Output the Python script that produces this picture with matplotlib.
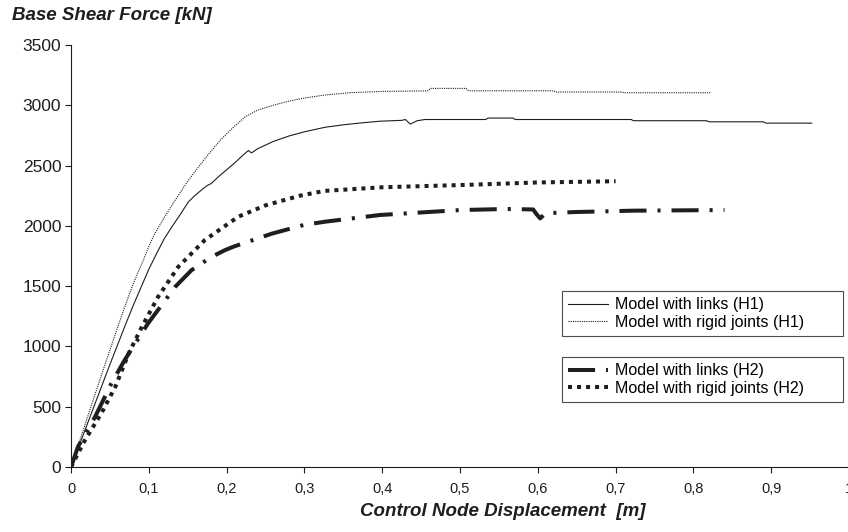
import matplotlib
matplotlib.use("Agg")
import matplotlib.pyplot as plt

plt.rcParams['font.family'] = ['Liberation Sans', 'DejaVu Sans']
plt.rcParams['lines.scale_dashes'] = False

# Model with links (H1)
links_h1_x = [0, 0.01, 0.02, 0.03, 0.04, 0.05, 0.06, 0.07, 0.08, 0.09, 0.10, 0.11, 0.12,
              0.13, 0.14, 0.151, 0.16, 0.17, 0.176, 0.18, 0.19, 0.2, 0.21, 0.22, 0.228,
              0.232, 0.24, 0.26, 0.28, 0.30, 0.326, 0.35, 0.37, 0.397, 0.425, 0.43, 0.436,
              0.445, 0.455, 0.533, 0.536, 0.568, 0.571, 0.72, 0.723, 0.817, 0.82, 0.89,
              0.893, 0.952]
links_h1_y = [0, 170, 340, 510, 680, 850, 1015, 1180, 1340, 1490, 1640, 1770, 1895,
              1995, 2090, 2200, 2255, 2310, 2338, 2350, 2410, 2465, 2520, 2580, 2625,
              2605, 2640, 2700, 2745, 2780, 2817, 2838, 2852, 2868, 2875, 2882, 2844,
              2872, 2882, 2882, 2894, 2894, 2882, 2882, 2872, 2872, 2863, 2863,
              2852, 2852]

# Model with rigid joints (H1)
rigid_h1_x = [0, 0.01, 0.02, 0.03, 0.04, 0.05, 0.06, 0.07, 0.08, 0.093, 0.1, 0.108, 0.12,
              0.134, 0.15, 0.164, 0.18, 0.194, 0.21, 0.224, 0.24, 0.26, 0.28, 0.30,
              0.326, 0.36, 0.40, 0.459, 0.462, 0.508, 0.511, 0.62, 0.623, 0.708,
              0.711, 0.823]
rigid_h1_y = [0, 195, 390, 585, 780, 970, 1160, 1345, 1520, 1716, 1830, 1940, 2070,
              2214, 2370, 2490, 2620, 2725, 2825, 2905, 2960, 3000, 3035, 3060,
              3085, 3105, 3115, 3120, 3140, 3140, 3120, 3120, 3110, 3110,
              3104, 3104]

# Model with links (H2)
links_h2_x = [0, 0.009, 0.031, 0.052, 0.069, 0.099, 0.134, 0.155, 0.18, 0.198, 0.21,
              0.258, 0.299, 0.326, 0.397, 0.5, 0.56, 0.594, 0.598, 0.603, 0.61, 0.65,
              0.723, 0.84]
links_h2_y = [0, 168, 417, 694, 887, 1191, 1495, 1633, 1740, 1799, 1830,
              1935, 2007, 2034, 2090, 2131, 2140, 2136, 2100, 2062, 2105, 2115,
              2126, 2131]

# Model with rigid joints (H2)
rigid_h2_x = [0, 0.018, 0.039, 0.057, 0.074, 0.091, 0.112, 0.138, 0.172, 0.215, 0.25,
              0.294, 0.326, 0.4, 0.509, 0.6, 0.7]
rigid_h2_y = [0, 224, 445, 666, 940, 1161, 1412, 1661, 1882, 2076, 2170,
              2250, 2290, 2320, 2340, 2360, 2370]

x_ticks = [0, 0.1, 0.2, 0.3, 0.4, 0.5, 0.6, 0.7, 0.8, 0.9, 1.0]
x_tick_labels = ['0', '0,1', '0,2', '0,3', '0,4', '0,5', '0,6', '0,7', '0,8', '0,9', '1']
y_ticks = [0, 500, 1000, 1500, 2000, 2500, 3000, 3500]

ink = '#1e1e1e'

fig = plt.figure(figsize=(8.48, 5.32), dpi=100)
ax = fig.add_axes([71 / 848, 65 / 532, 778 / 848, 422 / 532])

l1, = ax.plot(links_h1_x, links_h1_y, color=ink, lw=0.8, label='Model with links (H1)')
l2, = ax.plot(rigid_h1_x, rigid_h1_y, color=ink, lw=0.8, linestyle=(0, (0.8, 0.8)),
              label='Model with rigid joints (H1)')
l3, = ax.plot(links_h2_x, links_h2_y, color=ink, lw=2.9, linestyle=(0, (19.5, 7.9, 2.2, 7.9)),
              dash_capstyle='butt', label='Model with links (H2)')
l4, = ax.plot(rigid_h2_x, rigid_h2_y, color=ink, lw=2.9, linestyle=(0, (2.9, 3.6)),
              dash_capstyle='butt', label='Model with rigid joints (H2)')

ax.set_xlim(0, 1.0)
ax.set_ylim(0, 3500)
ax.set_xticks(x_ticks)
ax.set_xticklabels(x_tick_labels, fontsize=10.5)
ax.set_yticks(y_ticks)
ax.set_yticklabels([str(v) for v in y_ticks], fontsize=12.5)
ax.tick_params(direction='out', length=4, width=0.8, colors=ink)
ax.tick_params(axis='x', pad=7)
ax.tick_params(axis='y', pad=3)
for side in ['top', 'right']:
    ax.spines[side].set_visible(False)
for side in ['left', 'bottom']:
    ax.spines[side].set_color(ink)
    ax.spines[side].set_linewidth(0.8)

leg_kw = dict(loc='upper left', mode='expand', fontsize=11.5, frameon=True, fancybox=False,
              borderpad=0.4, labelspacing=0.15, handlelength=2.5, handletextpad=0.4,
              borderaxespad=0)
leg1 = ax.legend(handles=[l1, l2], bbox_to_anchor=(0.631, 0.3175, 0.361, 0.1), **leg_kw)
leg1.get_frame().set_edgecolor(ink)
leg1.get_frame().set_linewidth(0.8)
ax.add_artist(leg1)
leg2 = ax.legend(handles=[l3, l4], bbox_to_anchor=(0.631, 0.161, 0.361, 0.1), **leg_kw)
leg2.get_frame().set_edgecolor(ink)
leg2.get_frame().set_linewidth(0.8)

fig.text(12 / 848, 1 - 15 / 532, 'Base Shear Force [kN]', fontsize=13.5, fontweight='bold',
         fontstyle='italic', color=ink, ha='left', va='center')
fig.text(503 / 848, 1 - 512 / 532, 'Control Node Displacement  [m]', fontsize=13.5,
         fontweight='bold', fontstyle='italic', color=ink, ha='center', va='center')

fig.savefig('out.png', dpi=100)
